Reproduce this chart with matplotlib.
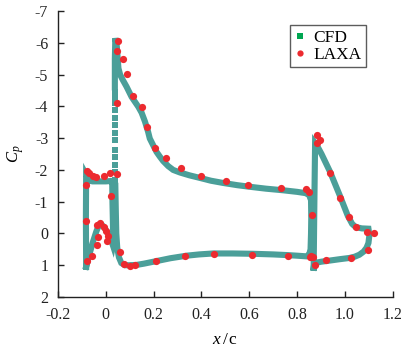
import matplotlib
matplotlib.use("Agg")
import matplotlib.pyplot as plt
from matplotlib.lines import Line2D

plt.rcParams['font.family'] = ['Liberation Serif', 'DejaVu Serif']
plt.rcParams['mathtext.fontset'] = 'custom'
plt.rcParams['mathtext.it'] = 'Liberation Serif:italic'
plt.rcParams['mathtext.rm'] = 'Liberation Serif'

# ---- CFD (slat) ----
slat_x = [-0.082, -0.083, -0.082, -0.077, -0.068, -0.055, -0.03, 0.0, 0.02, 0.027,
          0.028, 0.030, 0.032, 0.030, 0.020, 0.003, -0.010, -0.020, -0.028, -0.040,
          -0.055, -0.070, -0.080, -0.082]
slat_cp = [1.05, -0.5, -1.85, -1.78, -1.66, -1.64, -1.64, -1.64, -1.65, -1.6,
           -1.0, -0.3, 0.3, 0.38, 0.15, -0.08, -0.22, -0.30, -0.28, -0.05,
           0.30, 0.70, 1.0, 1.05]

# ---- CFD (main element, continuous part) ----
main_x = [0.038, 0.038, 0.040, 0.046, 0.050, 0.053, 0.060, 0.070, 0.087, 0.108,
          0.136, 0.150, 0.164, 0.177, 0.184, 0.198, 0.212, 0.226, 0.240, 0.261,
          0.282, 0.31, 0.35, 0.393, 0.44, 0.491, 0.55, 0.602, 0.67, 0.741,
          0.80, 0.835, 0.850, 0.858, 0.859, 0.858, 0.856, 0.850, 0.838, 0.80,
          0.756, 0.70, 0.616, 0.53, 0.449, 0.39, 0.338, 0.27, 0.212, 0.16,
          0.129, 0.10, 0.08, 0.065, 0.055, 0.048, 0.044, 0.042, 0.040]
main_cp = [-4.6, -5.5, -6.15, -5.9, -5.5, -5.2, -5.0, -4.85, -4.62, -4.30,
           -3.99, -3.80, -3.52, -3.20, -2.99, -2.78, -2.57, -2.42, -2.28, -2.12,
           -2.0, -1.92, -1.83, -1.75, -1.66, -1.59, -1.52, -1.47, -1.41, -1.36,
           -1.31, -1.27, -1.21, -1.05, -0.5, 0.0, 0.5, 0.67, 0.72, 0.70,
           0.68, 0.66, 0.64, 0.63, 0.63, 0.66, 0.70, 0.78, 0.87, 0.95,
           0.99, 1.0, 1.0, 0.93, 0.75, 0.45, 0.0, -0.7, -1.5]

# ---- CFD (main element leading edge, sparse points) ----
le_x = [0.040] * 14
le_cp = [-1.68, -1.94, -2.15, -2.42, -2.63, -2.94, -3.15, -3.41, -3.62, -3.88,
         -4.10, -4.30, -4.46, -1.37]

# ---- CFD (flap) ----
flap_x = [0.869, 0.872, 0.875, 0.882, 0.902, 0.937, 0.978, 1.012, 1.030, 1.045,
          1.070, 1.098, 1.102, 1.098, 1.090, 1.078, 1.060, 1.041, 1.02, 0.978,
          0.930, 0.900, 0.880, 0.871, 0.869]
flap_cp = [1.08, -1.0, -2.85, -2.78, -2.50, -1.95, -1.20, -0.55, -0.30, -0.20,
           -0.16, -0.15, 0.05, 0.30, 0.45, 0.57, 0.67, 0.73, 0.77, 0.81,
           0.86, 0.89, 0.92, 0.97, 1.08]

# ---- LAXA ----
laxa_x = [0.052, 0.045, 0.072, 0.087, 0.115, 0.152, 0.049, 0.171, 0.205, 0.250,
          0.314, 0.398, 0.502, 0.595, 0.731, 0.835, 0.850,
          -0.080, -0.069, -0.055, -0.042, -0.084, -0.008, 0.017, 0.049, 0.020,
          -0.083, -0.038, -0.022, -0.007, 0.003, 0.010, 0.006, -0.032, -0.038,
          -0.059, -0.078, 0.059, 0.076, 0.100, 0.124, 0.212, 0.333, 0.453,
          0.612, 0.762, 0.853, 0.858, 0.874,
          0.864, 0.881, 0.881, 0.895, 0.937, 0.981, 1.017, 1.048, 1.090, 1.121,
          1.097, 1.023, 0.920, 0.867]
laxa_cp = [-6.07, -5.75, -5.48, -5.01, -4.33, -3.97, -4.10, -3.34, -2.70, -2.37,
           -2.05, -1.81, -1.66, -1.52, -1.44, -1.40, -1.30,
           -1.98, -1.89, -1.82, -1.77, -1.53, -1.81, -1.91, -1.87, -1.17,
           -0.39, -0.27, -0.32, -0.21, -0.08, 0.08, 0.24, 0.12, 0.36,
           0.71, 0.87, 0.57, 0.97, 1.02, 0.99, 0.87, 0.71, 0.66,
           0.67, 0.70, 0.73, 0.72, 1.00,
           -0.58, -3.10, -2.86, -2.94, -1.89, -1.13, -0.53, -0.19, -0.06, 0.0,
           0.52, 0.76, 0.84, 0.73]

xticks = [-0.2, 0, 0.2, 0.4, 0.6, 0.8, 1.0, 1.2]
xticklabels = ['-0.2', '0', '0.2', '0.4', '0.6', '0.8', '1.0', '1.2']
yticks = [-7, -6, -5, -4, -3, -2, -1, 0, 1, 2]
yticklabels = ['-7', '-6', '-5', '-4', '-3', '-2', '-1', '0', '1', '2']

teal = '#4b9f99'
red = '#ec2a2f'

fig = plt.figure(figsize=(4.05, 3.48), dpi=100)
ax = fig.add_axes([0.143, 0.1466, 0.827, 0.8214])

lw = 4.4
ax.plot(slat_x, slat_cp, color=teal, lw=lw, solid_joinstyle='miter', zorder=2)
ax.plot(main_x, main_cp, color=teal, lw=lw, solid_joinstyle='miter', zorder=2)
ax.plot(flap_x, flap_cp, color=teal, lw=lw, solid_joinstyle='miter', zorder=2)
ax.plot(le_x, le_cp, linestyle='none', marker='s', ms=3.8, color=teal,
        markeredgewidth=0, zorder=2)
ax.plot(laxa_x, laxa_cp, linestyle='none', marker='o', ms=5.2, color=red,
        markeredgewidth=0, zorder=3)

ax.set_xlim(-0.2, 1.2)
ax.set_ylim(2, -7)
ax.set_xticks(xticks)
ax.set_xticklabels(xticklabels)
ax.set_yticks(yticks)
ax.set_yticklabels(yticklabels)

for s in ['top', 'right']:
    ax.spines[s].set_visible(False)
for s in ['left', 'bottom']:
    ax.spines[s].set_linewidth(1.0)
    ax.spines[s].set_color('#222222')
ax.tick_params(direction='in', length=4, width=1.0, labelsize=11.5, colors='#222222')
ax.tick_params(axis='x', pad=7)
ax.tick_params(axis='y', pad=7)

ax.set_ylabel(r'$C_p$', fontsize=12, labelpad=6)
ax.set_xlabel(r'$x\,/\,\mathrm{c}$', fontsize=12.5, labelpad=7)

handles = [Line2D([], [], linestyle='none', marker='s', ms=4.5, color='#00a651',
                  markeredgewidth=0),
           Line2D([], [], linestyle='none', marker='o', ms=4.5, color=red,
                  markeredgewidth=0)]
leg = ax.legend(handles, ['CFD', 'LAXA'], loc='upper left',
                bbox_to_anchor=(0.693, 0.951), borderaxespad=0, fancybox=False,
                frameon=True, fontsize=12.5, handlelength=0.6, handletextpad=0.5,
                borderpad=0.25, labelspacing=0.05)
leg.get_frame().set_edgecolor('#333333')
leg.get_frame().set_linewidth(1.0)

fig.savefig('out.png', dpi=100)
